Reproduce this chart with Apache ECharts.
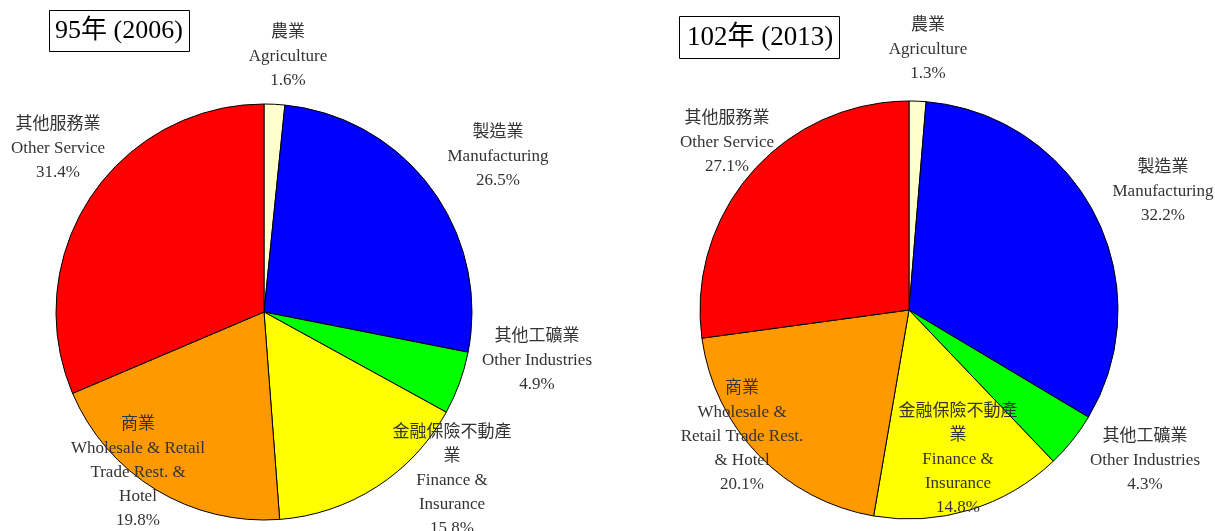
<!DOCTYPE html>
<html>
<head>
<meta charset="utf-8">
<script src="https://cdn.jsdelivr.net/npm/echarts@6/dist/echarts.min.js"></script>
<style>
html,body{margin:0;padding:0;background:#fff;}
#chart{width:1215px;height:531px;}
</style>
</head>
<body>
<div id="chart"></div>
<script>
// ---- Data ----
const titles = ['95年 (2006)', '102年 (2013)'];
const categories2006 = ['農業\nAgriculture', '製造業\nManufacturing', '其他工礦業\nOther Industries', '金融保險不動產\n業\nFinance &\nInsurance', '商業\nWholesale & Retail\nTrade Rest. &\nHotel', '其他服務業\nOther Service'];
const categories2013 = ['農業\nAgriculture', '製造業\nManufacturing', '其他工礦業\nOther Industries', '金融保險不動產\n業\nFinance &\nInsurance', '商業\nWholesale &\nRetail Trade Rest.\n& Hotel', '其他服務業\nOther Service'];
const values2006 = [1.6, 26.5, 4.9, 15.8, 19.8, 31.4];
const values2013 = [1.3, 32.2, 4.3, 14.8, 20.1, 27.1];

// ---- Styles / layout ----
const colors = ['#FFFFCC', '#0000FF', '#00FF00', '#FFFF00', '#FF9900', '#FF0000'];
const FONT = '"Liberation Serif", "Noto Sans CJK TC", serif';
const labelAnchors = [
  [[288, 21], [498, 121], [537, 325], [452, 421], [138, 413], [58, 113]],
  [[928, 14], [1163, 156], [1145, 425], [958, 400], [742, 377], [727, 107]]
];

function makeSeries(idx, cats, vals, center, radius) {
  return {
    type: 'pie',
    center: center,
    radius: radius,
    startAngle: 90,
    clockwise: true,
    avoidLabelOverlap: false,
    animation: false,
    data: cats.map((c, i) => ({ name: c, value: vals[i], itemStyle: { color: colors[i] } })),
    itemStyle: { borderColor: '#000', borderWidth: 1 },
    label: {
      show: true,
      position: 'outside',
      formatter: p => p.name + '\n' + Number(p.value).toFixed(1) + '%',
      fontFamily: FONT,
      fontSize: 17,
      lineHeight: 24,
      color: '#333',
      align: 'center'
    },
    labelLine: { show: false },
    labelLayout: function (params) {
      const a = labelAnchors[idx][params.dataIndex];
      return { x: a[0], y: a[1], align: 'center', verticalAlign: 'top' };
    },
    emphasis: { disabled: true }
  };
}

const chart = echarts.init(document.getElementById('chart'), null, { renderer: 'canvas' });
chart.setOption({
  backgroundColor: '#fff',
  title: [
    { text: titles[0], left: 49, top: 10, borderColor: '#000', borderWidth: 1, padding: [8, 7, 8, 6],
      textStyle: { fontFamily: FONT, fontSize: 26, fontWeight: 'normal', color: '#000' } },
    { text: titles[1], left: 679, top: 16, borderColor: '#000', borderWidth: 1, padding: [8, 7, 8, 8],
      textStyle: { fontFamily: FONT, fontSize: 27, fontWeight: 'normal', color: '#000' } }
  ],
  series: [
    makeSeries(0, categories2006, values2006, [264, 312], 208),
    makeSeries(1, categories2013, values2013, [909, 310], 209)
  ]
});
</script>
</body>
</html>
